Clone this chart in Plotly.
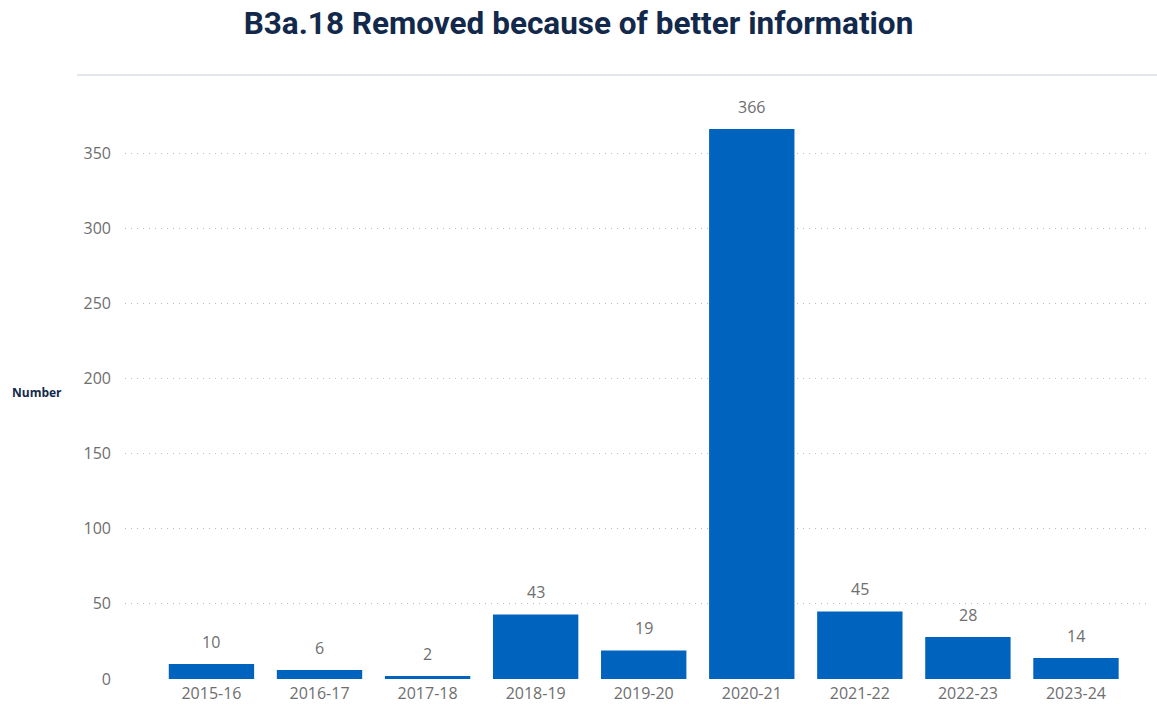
import plotly.graph_objects as go

years = ["2015-16", "2016-17", "2017-18", "2018-19", "2019-20",
         "2020-21", "2021-22", "2022-23", "2023-24"]
removed = [10, 6, 2, 43, 19, 366, 45, 28, 14]
y_ticks = [0, 50, 100, 150, 200, 250, 300, 350]

BAR = "#0063BE"
GREY = "#6E6E6E"
NAVY = "#13294B"

fig = go.Figure()
fig.add_trace(go.Bar(
    x=years, y=removed, marker=dict(color=BAR, line=dict(width=0)),
    hoverinfo="x+y",
))

# value labels above each bar
for yr, v in zip(years, removed):
    fig.add_annotation(x=yr, y=v, text=str(v), showarrow=False,
                       yanchor="bottom", yshift=9,
                       font=dict(family="Open Sans", size=16, color=GREY))

fig.add_annotation(xref="paper", yref="paper", x=(10 - 125) / 1025, xanchor="left",
                   y=0.476, text="<b>Number</b>", showarrow=False,
                   font=dict(family="Open Sans", size=12, color=NAVY))

# thin header rule above the plot panel
fig.add_shape(type="line", xref="paper", yref="paper",
              x0=(77 - 125) / 1025, x1=(1157 - 125) / 1025, y0=1.005, y1=1.005,
              line=dict(color="#E3E6EA", width=2))

fig.update_layout(
    width=1157, height=706,
    margin=dict(l=125, r=7, t=78, b=27, autoexpand=False),
    paper_bgcolor="white", plot_bgcolor="white",
    bargap=0.21,
    showlegend=False,
    title=dict(text="<b>B3a.18 Removed because of better information</b>",
               x=0.5, xanchor="center", y=0.968, yanchor="middle",
               font=dict(family="Roboto", size=31.5, color=NAVY)),
    xaxis=dict(type="category", range=[-0.80, 8.685], showgrid=False,
               showline=False, ticks="", zeroline=False, automargin=False,
               ticklabelstandoff=3,
               tickfont=dict(family="Open Sans", size=16, color=GREY)),
    yaxis=dict(range=[0, 400], tickvals=y_ticks, showline=False, zeroline=False,
               showgrid=True, gridcolor="#BDBDBD", griddash="1px,5px", gridwidth=1,
               ticks="", ticklabelstandoff=13, automargin=False,
               tickfont=dict(family="Open Sans", size=16, color=GREY)),
)

fig.write_html("out.html")
